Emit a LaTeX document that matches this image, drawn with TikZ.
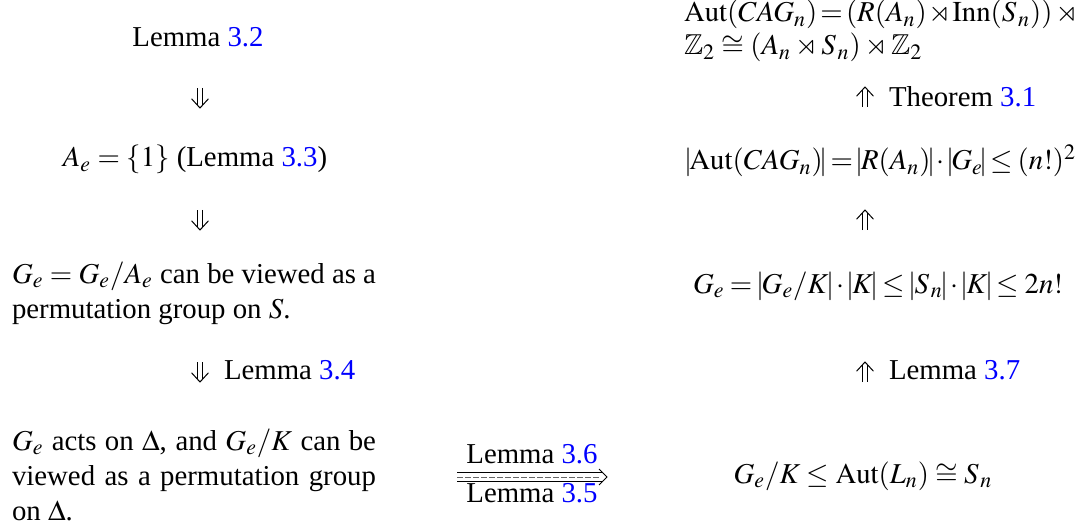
\documentclass[tikz,border=0pt]{standalone}
\IfFileExists{newtxmath.sty}{\usepackage{newtxmath}}{\usepackage{amssymb}\usepackage{mathptmx}}
\usepackage{fontspec}
\setmainfont{Liberation Serif}
\usetikzlibrary{arrows.meta}
\definecolor{refblue}{RGB}{0,0,255}
\newcommand{\rf}[1]{\textcolor{refblue}{#1}}
\newcommand{\av}[1]{\mskip0mu minus 1.5mu\mathopen{|}\mskip 0mu minus 2.5mu #1\mskip 0mu minus 2.5mu\mathclose{|}\mskip0mu minus 1.5mu}
\newcommand{\Sn}{S_{\mkern1.5mu n}}
\newcommand{\tight}{\thickmuskip=5mu plus 5mu minus 3mu \medmuskip=4mu plus 2mu minus 3mu }
% vertical implication arrows drawn from a start point to a tip point
\newcommand{\downimp}[2]{\draw[shaft] (#1) -- ([yshift=1.5pt]#2);
  \draw[head] ([xshift=-4.2pt,yshift=4.6pt]#2) -- (#2) -- ([xshift=4.2pt,yshift=4.6pt]#2);}
\newcommand{\upimp}[2]{\draw[shaft] (#1) -- ([yshift=-1.5pt]#2);
  \draw[head] ([xshift=-4.2pt,yshift=-4.6pt]#2) -- (#2) -- ([xshift=4.2pt,yshift=-4.6pt]#2);}
\begin{document}
\begin{tikzpicture}[x=0.5pt,y=-0.5pt,
  every node/.style={font=\fontsize{14.4}{17.5}\selectfont, inner sep=0pt, outer sep=0pt},
  txt/.style={anchor=base},
  lbl/.style={anchor=base west},
  para/.style={anchor=base west, align=justify},
  shaft/.style={double, double distance=2.2pt, line width=0.5pt},
  head/.style={line width=0.5pt, line join=miter},
  wshaft/.style={double, double distance=3.7pt, line width=0.5pt},
  midline/.style={draw=black!60, line width=0.35pt, dash pattern=on 3pt off 1pt}]
\useasboundingbox (0,0) rectangle (1080,529);
% left column
\node[txt] (lem32) at (198,47) {Lemma \rf{3.2}};
\node[txt] (ae) at (195,167) {$A_e=\{1\}$ (Lemma \rf{3.3})};
\node[para, text width=182pt] (perm) at (12,283) {$G_e = G_e/A_e$ can be viewed as a\linebreak permutation group on $S$.};
\node[para, text width=182pt] (acts) at (12,450) {$G_e$ acts on $\Delta$, and $G_e/K$ can be\linebreak viewed as a permutation group\linebreak on $\Delta$.};
\coordinate (d1a) at (200,88);  \coordinate (d1b) at (200,108);
\coordinate (d2a) at (200,210); \coordinate (d2b) at (200,230);
\coordinate (d3a) at (200,362); \coordinate (d3b) at (200,382);
\downimp{d1a}{d1b}
\downimp{d2a}{d2b}
\downimp{d3a}{d3b}
\node[lbl] (l34) at (224,379) {Lemma \rf{3.4}};
% middle
\node[txt] (l36) at (532,463) {Lemma \rf{3.6}};
\node[txt] (l35) at (532,502) {Lemma \rf{3.5}};
\coordinate (ma) at (457,477); \coordinate (mb) at (607,477);
\draw[wshaft] (ma) -- ([xshift=-2.1pt]mb);
\draw[midline] (ma) -- ([xshift=-4pt]mb);
\draw[head] ([xshift=-4pt,yshift=4pt]mb) -- (mb) -- ([xshift=-4pt,yshift=-4pt]mb);
% right column
\node[para, text width=194.5pt, align=left] (aut) at (684,22) {\hbox to 194.5pt{$\tight\mathrm{Aut}(CAG_n) = (R(A_n)\rtimes \mathrm{Inn}(\Sn))\mathrel{\rtimes}$}\\[-1pt] $\mathbb{Z}_2\cong (A_n\rtimes \Sn)\rtimes\mathbb{Z}_2$};
\node[txt] (ord) at (881,170) {\hbox to 195pt{$\tight\av{\mathrm{Aut}(CAG_n)} = \av{R(A_n)}\cdot\av{G_e}\leq (n!)^2$}};
\node[txt] (ge) at (878,293) {\hbox to 185pt{$\tight G_e = \av{G_e/K}\cdot\av{K}\leq\av{\Sn}\cdot\av{K}\leq 2n!$}};
\node[txt] (gk) at (863,483) {$G_e/K\leq \mathrm{Aut}(L_n)\cong \Sn$};
\coordinate (u1a) at (865,107); \coordinate (u1b) at (865,87);
\coordinate (u2a) at (865,230); \coordinate (u2b) at (865,210);
\coordinate (u3a) at (865,382); \coordinate (u3b) at (865,362);
\upimp{u1a}{u1b}
\upimp{u2a}{u2b}
\upimp{u3a}{u3b}
\node[lbl] (t31) at (889,107) {Theorem \rf{3.1}};
\node[lbl] (l37) at (889,379) {Lemma \rf{3.7}};
\end{tikzpicture}
\end{document}
